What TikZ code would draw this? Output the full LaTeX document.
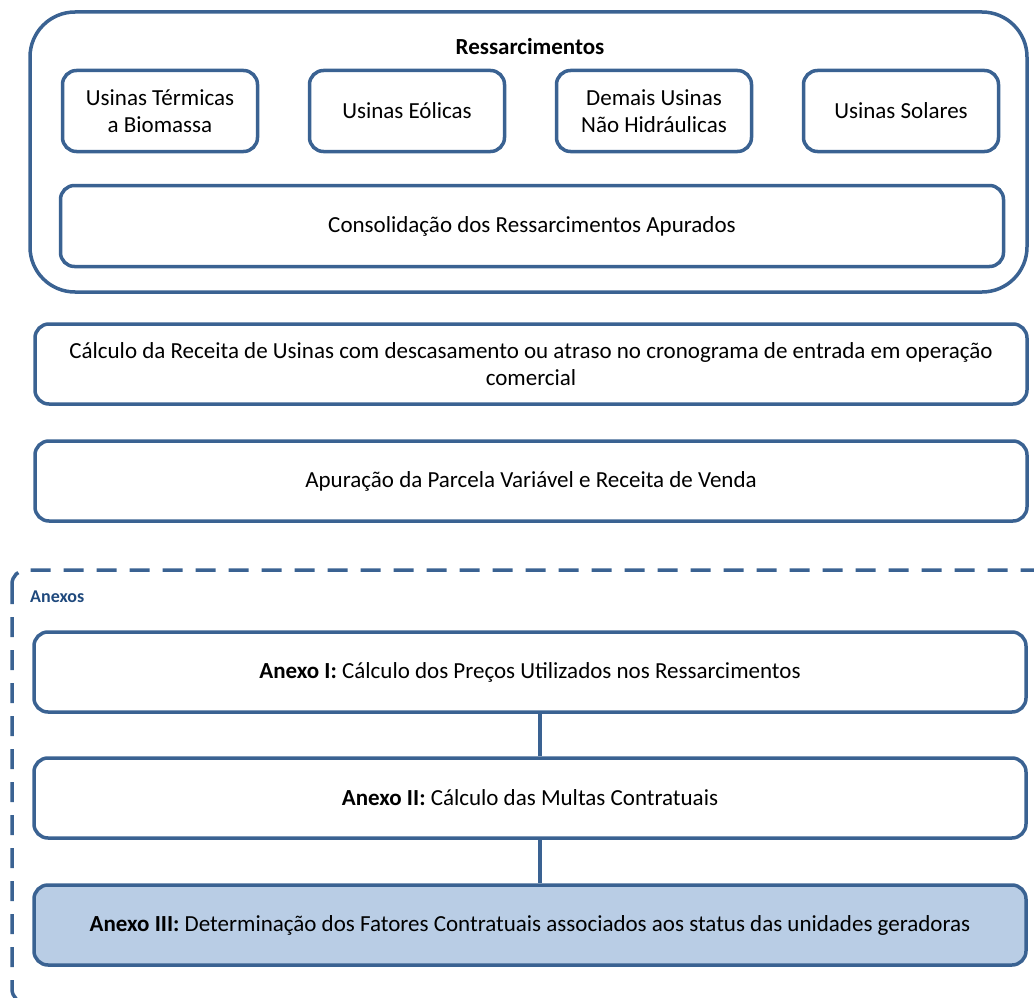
\documentclass[tikz,border=0pt]{standalone}
\usepackage{fontspec}
\setmainfont{Carlito}
\usepackage{tikz}

\definecolor{boxline}{RGB}{58,98,146}
\definecolor{anexotxt}{RGB}{31,73,125}
\definecolor{anexofill}{RGB}{185,205,229}

\begin{document}
\begin{tikzpicture}[x=1pt,y=-1pt,
		caixa/.style={draw=boxline, line width=3.5pt, rounded corners=14pt, inner sep=0pt, align=center, font=\fontsize{23}{27}\selectfont},
		usina/.style={caixa, minimum width=195pt, minimum height=81pt},
		larga/.style={caixa, minimum width=992pt, minimum height=80pt},
		ligacao/.style={draw=boxline, line width=3.5pt}]
			\useasboundingbox (0,0) rectangle (1034,998);
			%\draw [help lines] (0,0) grid (1034,998);

			% Ressarcimentos
			\draw[boxline, line width=3.5pt, rounded corners=45pt] (30,12) rectangle (1027,292);
			\node[font=\fontsize{23}{27}\selectfont\bfseries] (tit) at (530,47) {Ressarcimentos};

			\node[usina] (bio) at (160,111) {Usinas Térmicas\\a Biomassa};
			\node[usina] (eol) at (407,111) {Usinas Eólicas};
			\node[usina] (dem) at (654,111) {Demais Usinas\\Não Hidráulicas};
			\node[usina] (sol) at (901,111) {Usinas Solares};
			\node[caixa, minimum width=943pt, minimum height=81pt] (cons) at (532,226) {Consolidação dos Ressarcimentos Apurados};

			\node[larga] (rec) at (531,364) {Cálculo da Receita de Usinas com descasamento ou atraso no cronograma de entrada em operação\\comercial};
			\node[larga] (pv) at (531,481) {Apuração da Parcela Variável e Receita de Venda};

			% Anexos
			\draw[boxline, line width=3.5pt, dash pattern=on 20pt off 13pt, rounded corners=14pt] (12,570) rectangle (1050,1003);
			\node[font=\fontsize{18}{20}\selectfont\bfseries, text=anexotxt, anchor=west, inner sep=0pt] (anx) at (30,597) {Anexos};

			\node[larga] (a1) at (530,672) {\textbf{Anexo I:} Cálculo dos Preços Utilizados nos Ressarcimentos};
			\node[larga] (a2) at (530,798) {\textbf{Anexo II:} Cálculo das Multas Contratuais};
			\node[larga, fill=anexofill] (a3) at (530,925) {\textbf{Anexo III:} Determinação dos Fatores Contratuais associados aos status das unidades geradoras};

			\draw[ligacao] (a1.south -| 540,0) -- (a2.north -| 540,0);
			\draw[ligacao] (a2.south -| 540,0) -- (a3.north -| 540,0);
		\end{tikzpicture}
\end{document}
